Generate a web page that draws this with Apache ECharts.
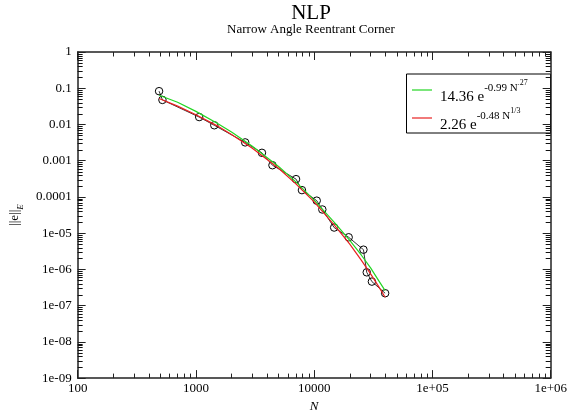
<!DOCTYPE html>
<html>
<head>
<meta charset="utf-8">
<script src="https://cdn.jsdelivr.net/npm/echarts@6/dist/echarts.min.js"></script>
<style>
  html, body { margin: 0; padding: 0; background: #fff; }
  #main { width: 570px; height: 418px; }
</style>
</head>
<body>
<div id="main"></div>
<script>
const SERIF = '"Liberation Serif", "DejaVu Serif", serif';

// measured errors vs number of unknowns
const dofN = [488, 521, 1066, 1430, 2610, 3617, 4437, 7028, 7880, 10510, 11720, 14760, 19570, 26100, 27830, 30770, 39810];
const errE = [0.083, 0.0476, 0.016, 0.0095, 0.0032, 0.00165, 0.00075, 0.00031, 0.000154, 7.9e-5, 4.5e-5, 1.43e-5, 7.7e-6, 3.5e-6, 8.3e-7, 4.6e-7, 2.2e-7];

// the two fitted curves
const fitN = [488, 700, 1000, 1500, 2000, 3000, 5000, 7000, 10000, 15000, 20000, 25000, 30000, 35000, 39810];
const fitGreen = [0.064, 0.041, 0.023, 0.011, 0.0062, 0.0025, 6.9e-4, 2.6e-4, 8.2e-5, 1.9e-5, 6.3e-6, 2.5e-6, 1.1e-6, 5.0e-7, 2.6e-7];
const fitRed = [0.052, 0.032, 0.0186, 0.0093, 0.0053, 0.0022, 6.2e-4, 2.3e-4, 7.3e-5, 1.6e-5, 5.0e-6, 1.8e-6, 7.5e-7, 3.4e-7, 1.7e-7];

// legend text pieces
const fitCoef = ['14.36 e', '2.26 e'];
const fitExp = ['-0.99 N', '-0.48 N'];
const fitExp2 = ['.27', '1/3'];

// tick labels, one per decade
const xTickLabels = ['100', '1000', '10000', '1e+05', '1e+06'];
const yTickLabels = ['1e-09', '1e-08', '1e-07', '1e-06', '1e-05', '0.0001', '0.001', '0.01', '0.1', '1'];

const GREEN = '#22d622';
const RED = '#e82020';
const FRAME = '#222';

// axes run in decades (log10 units)
const X_DEC = [2, 6];
const Y_DEC = [-9, 0];

// minor tick positions (2..9 in every decade), in decades
function minorTicks(lo, hi) {
    const out = [];
    for (let d = lo; d < hi; d++) {
        for (let k = 2; k <= 9; k++) out.push(d + Math.log10(k));
    }
    return out;
}
const toLog = (xs, ys) => xs.map((x, i) => [Math.log10(x), Math.log10(ys[i])]);

const chart = echarts.init(document.getElementById('main'));

const labelStyle = { color: '#000', fontFamily: SERIF, fontSize: 13 };

function decadeAxis(range, pos, tickLen, minor, labels, margin) {
    const ax = {
        type: 'value', min: range[0], max: range[1], interval: 1, position: pos,
        axisLine: { show: !minor, onZero: false, lineStyle: { color: FRAME, width: 1.5 } },
        axisTick: { show: true, inside: true, length: tickLen, lineStyle: { color: FRAME, width: 1 } },
        axisLabel: { show: false },
        splitLine: { show: false }
    };
    if (minor) ax.axisTick.customValues = minorTicks(range[0], range[1]);
    if (labels) {
        ax.axisLabel = Object.assign({
            show: true, margin: margin,
            formatter: v => labels[Math.round(v - range[0])]
        }, labelStyle);
    }
    return ax;
}

const xMain = decadeAxis(X_DEC, 'bottom', 8, false, xTickLabels, 4);
xMain.name = 'N';
xMain.nameLocation = 'middle';
xMain.nameGap = 19;
xMain.nameTextStyle = { color: '#000', fontFamily: SERIF, fontSize: 13, fontStyle: 'italic' };

const yMain = decadeAxis(Y_DEC, 'left', 8, false, yTickLabels, 6);
yMain.name = '{a|||e||}{b|E}';
yMain.nameLocation = 'middle';
yMain.nameRotate = 90;
yMain.nameGap = 50;
yMain.nameTextStyle = {
    color: '#000', fontFamily: SERIF, fontSize: 13,
    rich: {
        a: { fontFamily: SERIF, fontSize: 13, color: '#000', lineHeight: 18, verticalAlign: 'top' },
        b: { fontFamily: SERIF, fontSize: 9, fontStyle: 'italic', color: '#000', lineHeight: 18, padding: [8, 0, 0, 0], verticalAlign: 'top' }
    }
};

// y minor ticks on both sides of the frame, placed through the grid coordinates
const yMinor = minorTicks(Y_DEC[0], Y_DEC[1]);
function renderYMinor(params, api) {
    const v = api.value(1);
    const l = api.coord([X_DEC[0], v]);
    const r = api.coord([X_DEC[1], v]);
    const y = Math.round(l[1]) + 0.5;
    return {
        type: 'group',
        children: [
            { type: 'line', shape: { x1: l[0], y1: y, x2: l[0] + 5, y2: y }, style: { stroke: '#111', lineWidth: 1 } },
            { type: 'line', shape: { x1: r[0] - 5, y1: y, x2: r[0], y2: y }, style: { stroke: '#111', lineWidth: 1 } }
        ]
    };
}

// legend built from text pieces
const legendColors = [GREEN, RED];
const legendTop = [79, 107];
const legendChildren = [{
    type: 'rect',
    shape: { x: 406.5, y: 74, width: 144, height: 59 },
    style: { fill: '#fff', stroke: '#000', lineWidth: 1 }
}];
fitCoef.forEach((c, i) => {
    const lineY = legendTop[i] + 11;
    legendChildren.push({
        type: 'line',
        shape: { x1: 412, y1: lineY, x2: 432, y2: lineY },
        style: { stroke: legendColors[i], lineWidth: 1.2 }
    });
    legendChildren.push({
        type: 'text',
        style: {
            x: 440, y: legendTop[i], verticalAlign: 'top',
            text: '{m|' + c + '}{s|' + fitExp[i] + '}{t|' + fitExp2[i] + '}',
            rich: {
                m: { fontFamily: SERIF, fontSize: 15, color: '#000', lineHeight: 26, verticalAlign: 'bottom' },
                s: { fontFamily: SERIF, fontSize: 11, color: '#000', lineHeight: 11, padding: [4, 0, 0, 0], verticalAlign: 'top' },
                t: { fontFamily: SERIF, fontSize: 8, color: '#000', lineHeight: 8, verticalAlign: 'top' }
            }
        }
    });
});

chart.setOption({
    animation: false,
    backgroundColor: '#fff',
    title: {
        text: 'NLP',
        subtext: 'Narrow Angle Reentrant Corner',
        left: 311, top: 3, textAlign: 'center', padding: 0, itemGap: -1,
        textStyle: { color: '#000', fontFamily: SERIF, fontSize: 21, fontWeight: 'normal' },
        subtextStyle: { color: '#000', fontFamily: SERIF, fontSize: 13 }
    },
    grid: { left: 71, top: 52, width: 480, height: 334 },
    xAxis: [
        xMain,
        decadeAxis(X_DEC, 'bottom', 4.5, true),
        decadeAxis(X_DEC, 'top', 8, false),
        decadeAxis(X_DEC, 'top', 4.5, true)
    ],
    yAxis: [
        yMain,
        decadeAxis(Y_DEC, 'right', 8, false)
    ],
    series: [
        {
            type: 'custom', xAxisIndex: 0, yAxisIndex: 0, silent: true, clip: false, z: 10,
            data: yMinor.map(v => [X_DEC[0], v]),
            renderItem: renderYMinor
        },
        {
            name: 'NLP', type: 'line', xAxisIndex: 0, yAxisIndex: 0,
            data: toLog(dofN, errE),
            symbol: 'circle', symbolSize: 7.5,
            itemStyle: { color: 'rgba(0,0,0,0)', borderColor: '#000', borderWidth: 1 },
            lineStyle: { color: '#000', width: 0.8 },
            z: 2
        },
        {
            name: fitCoef[0], type: 'line', xAxisIndex: 0, yAxisIndex: 0,
            data: toLog(fitN, fitGreen),
            showSymbol: false, symbol: 'none',
            lineStyle: { color: GREEN, width: 1.2 },
            z: 3
        },
        {
            name: fitCoef[1], type: 'line', xAxisIndex: 0, yAxisIndex: 0,
            data: toLog(fitN, fitRed),
            showSymbol: false, symbol: 'none',
            lineStyle: { color: RED, width: 1.2 },
            z: 4
        }
    ],
    graphic: [{ type: 'group', children: legendChildren }]
});
</script>
</body>
</html>
